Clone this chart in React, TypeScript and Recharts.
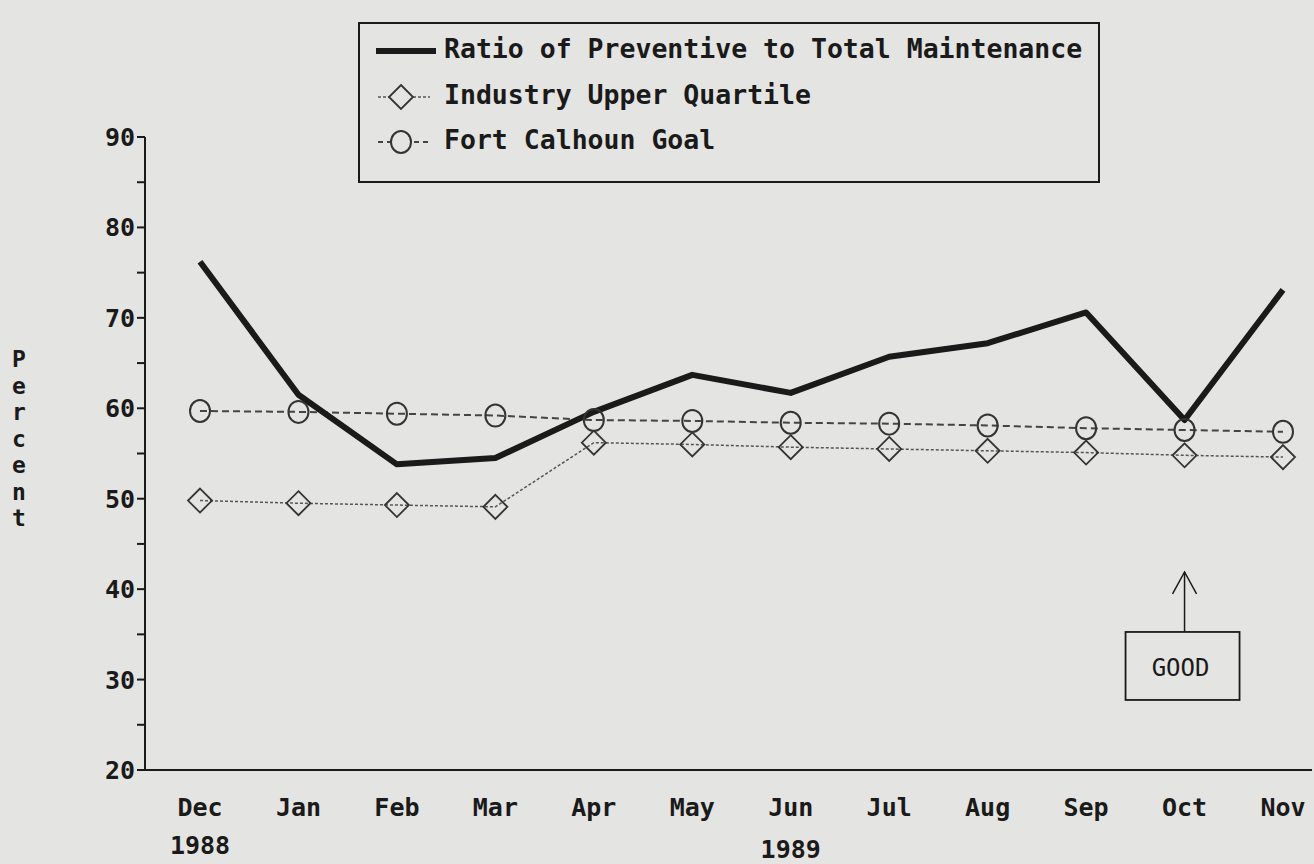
import React from 'react';
import { LineChart, Line, XAxis, YAxis, ReferenceDot } from 'recharts';

const months = ['Dec', 'Jan', 'Feb', 'Mar', 'Apr', 'May', 'Jun', 'Jul', 'Aug', 'Sep', 'Oct', 'Nov'];
const years = ['1988', '', '', '', '', '', '1989', '', '', '', '', ''];
const ratio = [76.2, 61.5, 53.8, 54.5, 59.6, 63.7, 61.7, 65.7, 67.2, 70.6, 58.7, 73.1];
const industry = [49.8, 49.5, 49.3, 49.1, 56.2, 56.0, 55.7, 55.5, 55.3, 55.1, 54.8, 54.6];
const goal = [59.7, 59.6, 59.4, 59.2, 58.7, 58.6, 58.4, 58.3, 58.1, 57.8, 57.6, 57.4];
const yTicks = [20, 25, 30, 35, 40, 45, 50, 55, 60, 65, 70, 75, 80, 85, 90];
const yLabels = [20, 30, 40, 50, 60, 70, 80, 90];
const seriesNames = ['Ratio of Preventive to Total Maintenance', 'Industry Upper Quartile', 'Fort Calhoun Goal'];

const data = months.map((m, i) => ({
  month: m,
  year: years[i],
  ratio: ratio[i],
  industry: industry[i],
  goal: goal[i],
}));

const FONT = '"DejaVu Sans Mono", "Liberation Mono", monospace';
const INK = '#1a1a1a';
const BG = '#e4e4e2';

const Diamond = (props: any) => {
  const { cx, cy } = props;
  if (cx == null || cy == null) return null;
  const s = 12;
  return (
    <polygon
      points={`${cx},${cy - s} ${cx + s},${cy} ${cx},${cy + s} ${cx - s},${cy}`}
      fill="none"
      stroke="#333"
      strokeWidth={1.8}
    />
  );
};

const Circle = (props: any) => {
  const { cx, cy } = props;
  if (cx == null || cy == null) return null;
  return <ellipse cx={cx} cy={cy} rx={10} ry={11} fill="none" stroke="#333" strokeWidth={2} />;
};

const YTick = (props: any) => {
  const { x, y, payload } = props;
  const major = yLabels.includes(payload.value);
  return (
    <g>
      <line x1={x} x2={x + 8} y1={y} y2={y} stroke={INK} strokeWidth={2} />
      {major && (
        <text x={x - 2} y={y + 9} textAnchor="end" fontFamily={FONT} fontWeight="bold" fontSize={25} fill={INK}>
          {payload.value}
        </text>
      )}
    </g>
  );
};

const XTick = (props: any) => {
  const { x, y, payload, index } = props;
  const yr = years[index];
  return (
    <g>
      <text x={x} y={y + 38} textAnchor="middle" fontFamily={FONT} fontWeight="bold" fontSize={25} fill={INK}>
        {payload.value}
      </text>
      {yr && (
        <text x={x} y={y + (index === 0 ? 76 : 80)} textAnchor="middle" fontFamily={FONT} fontWeight="bold" fontSize={25} fill={INK}>
          {yr}
        </text>
      )}
    </g>
  );
};

const GoodMarker = (props: any) => {
  const { cx, cy } = props;
  if (cx == null || cy == null) return null;
  const top = cy + 60;
  return (
    <g>
      <line x1={cx} x2={cx} y1={cy} y2={top} stroke={INK} strokeWidth={1.5} />
      <polyline points={`${cx - 12},${cy + 22} ${cx},${cy} ${cx + 12},${cy + 22}`} fill="none" stroke={INK} strokeWidth={1.5} />
      <rect x={cx - 59} y={top} width={114} height={68} fill="none" stroke={INK} strokeWidth={1.8} />
      <text x={cx - 4} y={top + 44} textAnchor="middle" fontFamily={FONT} fontSize={24} fill={INK}>
        GOOD
      </text>
    </g>
  );
};

const LegendBox = () => (
  <div
    style={{
      position: 'absolute',
      left: 358,
      top: 22,
      width: 742,
      height: 161,
      border: `2px solid ${INK}`,
      boxSizing: 'border-box',
      fontFamily: FONT,
      fontWeight: 'bold',
      fontSize: 26.5,
      color: INK,
      zIndex: 2,
    }}
  >
    <svg width={80} height={158} style={{ position: 'absolute', left: 0, top: 0 }}>
      <line x1={16} x2={76} y1={27} y2={27} stroke={INK} strokeWidth={6} />
      <line x1={18} x2={70} y1={73} y2={73} stroke="#555" strokeWidth={1.5} strokeDasharray="3 2" />
      <polygon points="41,61 53,73 41,85 29,73" fill={BG} stroke="#333" strokeWidth={1.8} />
      <line x1={18} x2={70} y1={118} y2={118} stroke="#444" strokeWidth={2} strokeDasharray="5 4" />
      <ellipse cx={41} cy={118} rx={10} ry={11} fill={BG} stroke="#333" strokeWidth={2} />
    </svg>
    <div style={{ position: 'absolute', left: 84, top: 9, whiteSpace: 'nowrap' }}>{seriesNames[0]}</div>
    <div style={{ position: 'absolute', left: 84, top: 55, whiteSpace: 'nowrap' }}>{seriesNames[1]}</div>
    <div style={{ position: 'absolute', left: 84, top: 100, whiteSpace: 'nowrap' }}>{seriesNames[2]}</div>
  </div>
);

export default function App() {
  return (
    <div style={{ position: 'absolute', left: 0, top: 0, width: 1314, height: 864, background: BG, overflow: 'hidden' }}>
      <div
        style={{
          position: 'absolute',
          left: 9,
          top: 346,
          width: 20,
          fontFamily: FONT,
          fontWeight: 'bold',
          fontSize: 23,
          lineHeight: '26.5px',
          color: INK,
          textAlign: 'center',
        }}
      >
        {'Percent'.split('').map((c, i) => (
          <div key={i}>{c}</div>
        ))}
      </div>
      <LegendBox />
      <div style={{ position: 'absolute', left: 0, top: 0 }}>
        <LineChart width={1314} height={864} data={data} margin={{ top: 137, right: 2, bottom: 64, left: 0 }}>
          <XAxis
            dataKey="month"
            padding={{ left: 55, right: 29 }}
            tick={<XTick />}
            tickLine={false}
            axisLine={{ stroke: INK, strokeWidth: 2 }}
            interval={0}
            height={30}
          />
          <YAxis
            domain={[20, 90]}
            ticks={yTicks}
            width={145}
            tick={<YTick />}
            tickLine={false}
            axisLine={{ stroke: INK, strokeWidth: 2 }}
            interval={0}
          />
          <Line
            dataKey="industry"
            name={seriesNames[1]}
            stroke="#555"
            strokeWidth={1.5}
            strokeDasharray="3 2"
            dot={<Diamond />}
            isAnimationActive={false}
          />
          <Line
            dataKey="goal"
            name={seriesNames[2]}
            stroke="#444"
            strokeWidth={2}
            strokeDasharray="7 4"
            dot={<Circle />}
            isAnimationActive={false}
          />
          <Line
            dataKey="ratio"
            name={seriesNames[0]}
            stroke={INK}
            strokeWidth={6}
            dot={false}
            strokeLinejoin="round"
            isAnimationActive={false}
          />
          <ReferenceDot x="Oct" y={41.9} r={0} shape={<GoodMarker />} isFront />
        </LineChart>
      </div>
    </div>
  );
}
